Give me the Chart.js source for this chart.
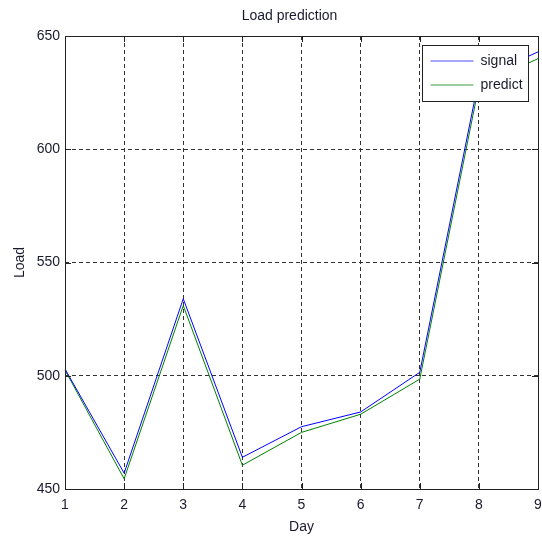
<!DOCTYPE html>
<html>
<head>
<meta charset="utf-8" />
<script src="https://cdn.jsdelivr.net/npm/chart.js@4.4.1/dist/chart.umd.min.js"></script>
<style>
  html, body { margin: 0; padding: 0; background: #fff; }
  #wrap { width: 542px; height: 537px; }
</style>
<title>Load prediction</title>
</head>
<body>
<div id="wrap"><canvas id="myChart" width="542" height="537"></canvas></div>
<script>
// values
const days = [1, 2, 3, 4, 5, 6, 7, 8, 9];
const signalLoad = [503, 457, 534, 464, 477.5, 484, 501.5, 631, 643];
const predictLoad = [502.5, 454.5, 531, 460.5, 475, 483, 498.5, 628, 640];
const loadTicks = [450, 500, 550, 600, 650];
const chartTitle = "Load prediction";

const FONT = "'Liberation Sans', Arial, Helvetica, sans-serif";
Chart.defaults.font.family = FONT;
Chart.defaults.font.size = 14;
Chart.defaults.color = "#1a1a2e";

// solid frame round the axes + small inward ticks (matlab style)
const boxPlugin = {
  id: "box",
  afterDatasetsDraw(chart) {
    const { ctx, chartArea: a, scales } = chart;
    ctx.save();
    ctx.strokeStyle = "#222";
    ctx.lineWidth = 1;
    ctx.setLineDash([]);
    ctx.beginPath();
    scales.x.ticks.forEach((t, i) => {
      const px = Math.round(scales.x.getPixelForTick(i)) + 0.5;
      ctx.moveTo(px, a.top); ctx.lineTo(px, a.top + 6);
      ctx.moveTo(px, a.bottom); ctx.lineTo(px, a.bottom - 6);
    });
    scales.y.ticks.forEach((t, i) => {
      const py = Math.round(scales.y.getPixelForTick(i)) + 0.5;
      ctx.moveTo(a.left, py); ctx.lineTo(a.left + 6, py);
      ctx.moveTo(a.right, py); ctx.lineTo(a.right - 6, py);
    });
    ctx.stroke();
    ctx.strokeRect(Math.round(a.left) + 0.5, Math.round(a.top) + 0.5,
      Math.round(a.right - a.left), Math.round(a.bottom - a.top));

    // title sits a little left of the axes centre in the original
    ctx.font = "14px " + FONT;
    ctx.fillStyle = "#1a1a2e";
    ctx.textAlign = "center";
    ctx.textBaseline = "middle";
    ctx.fillText(chartTitle, (a.left + a.right) / 2 - 12, a.top - 20);
    ctx.restore();
  }
};

// legend box inside the top right corner
const legendBoxPlugin = {
  id: "legendBox",
  afterDraw(chart) {
    const { ctx, chartArea: a } = chart;
    const w = 106, h = 56;
    const left = Math.round(a.right - 10 - w) + 0.5;
    const top = Math.round(a.top + 9) + 0.5;
    ctx.save();
    ctx.setLineDash([]);
    ctx.fillStyle = "#fff";
    ctx.fillRect(left, top, w, h);
    ctx.strokeStyle = "#222";
    ctx.lineWidth = 1;
    ctx.strokeRect(left, top, w, h);
    ctx.font = "14px " + FONT;
    ctx.textBaseline = "middle";
    ctx.textAlign = "left";
    chart.data.datasets.forEach((ds, i) => {
      const y = Math.round(top + 15 + i * 24);
      ctx.strokeStyle = ds.legendColor;
      ctx.beginPath();
      ctx.moveTo(left + 8, y);
      ctx.lineTo(left + 51, y);
      ctx.stroke();
      ctx.fillStyle = "#1a1a2e";
      ctx.fillText(ds.label, left + 58, y);
    });
    ctx.restore();
  }
};

new Chart(document.getElementById("myChart").getContext("2d"), {
  type: "line",
  data: {
    labels: days,
    datasets: [
      {
        label: "signal",
        data: signalLoad,
        borderColor: "#0000ff",
        legendColor: "#4d4dff",
        borderWidth: 1,
        pointRadius: 0,
        tension: 0,
      },
      {
        label: "predict",
        data: predictLoad,
        borderColor: "#008000",
        legendColor: "#3c9c3c",
        borderWidth: 1,
        pointRadius: 0,
        tension: 0,
      },
    ],
  },
  options: {
    responsive: false,
    animation: false,
    layout: { padding: { top: 36, right: 4, left: 0, bottom: 0 } },
    plugins: {
      legend: { display: false },
      tooltip: { enabled: false },
      title: { display: false },
    },
    scales: {
      x: {
        type: "category",
        offset: false,
        grid: { color: "#333", lineWidth: 1, drawTicks: false },
        border: { display: false, dash: [4, 3] },
        ticks: { padding: 8, maxRotation: 0, color: "#1a1a2e" },
        title: { display: true, text: "Day", padding: { top: 0, bottom: 1 } },
        afterFit(scale) {
          scale.height = 48;
          scale.paddingRight = 4;
        },
      },
      y: {
        min: 450,
        max: 650,
        afterBuildTicks(scale) { scale.ticks = loadTicks.map((v) => ({ value: v })); },
        grid: { color: "#333", lineWidth: 1, drawTicks: false },
        border: { display: false, dash: [4, 3] },
        ticks: { padding: 5, color: "#1a1a2e" },
        title: { display: true, text: "Load", padding: { top: 12, bottom: 0 } },
        afterFit(scale) { scale.width = 65; },
      },
    },
  },
  plugins: [boxPlugin, legendBoxPlugin],
});
</script>
</body>
</html>
